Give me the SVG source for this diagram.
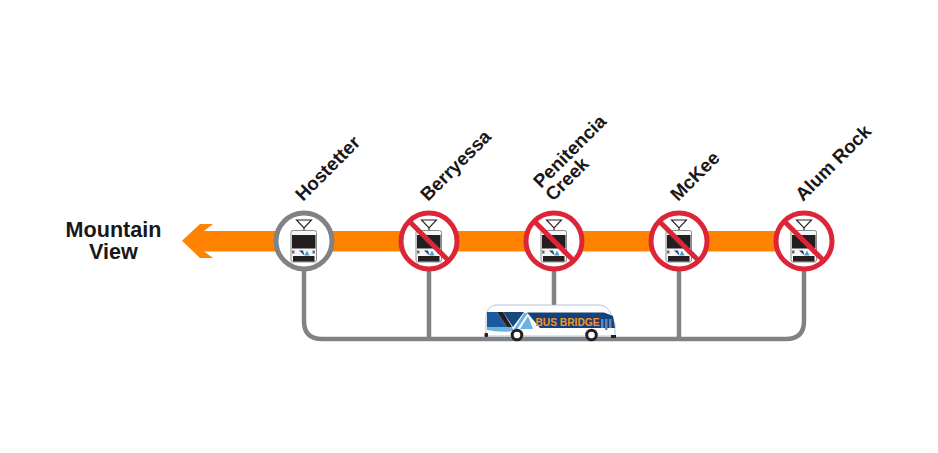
<svg xmlns="http://www.w3.org/2000/svg" width="938" height="453" viewBox="0 0 938 453">
<style>
.lbl{font-family:"Liberation Sans",Arial,sans-serif;font-weight:700;fill:#1a1718}
.st{font-size:18.8px}
.conn{fill:none;stroke:#808285;stroke-width:4.500}
.ring{fill:#fff;stroke:#808285;stroke-width:5}
.no{fill:none;stroke:#dc2536;stroke-width:5}
</style>
<defs>
<g id="train">
<path d="M-7.500-21H7.500L0-13ZM0-13V-9" fill="none" stroke="#231f20" stroke-width="1.100"/>
<circle cx="0" cy="-9.500" r="1.400" fill="#fff" stroke="#231f20" stroke-width="0.800"/>
<rect x="-13" y="-10.500" width="25.500" height="31.500" rx="2" fill="#f6f6f6" stroke="#8a8c8e" stroke-width="1"/>
<rect x="-12" y="-6" width="23.500" height="13.500" fill="#231f20"/>
<rect x="-11" y="15" width="21.500" height="5.500" fill="#231f20"/>
<rect x="-12" y="9.500" width="2.500" height="3" fill="#6d6e71"/>
<rect x="8.500" y="9.500" width="2.500" height="3" fill="#6d6e71"/>
<path d="M-5 9.500H-1L0.500 14.500Z" fill="#17497f"/>
<path d="M0.500 14.500 3 9.500 5.500 14.500Z" fill="#4a9ad4"/>
</g>
</defs>

<g id="connectors">
<path class="conn" d="M304 268V321Q304 339 322 339H786Q804 339 804 321V268"/>
<path class="conn" d="M429 268V339M554 268V306M679 268V339"/>
</g>

<g id="line">
<path d="M182 240.700 200 224H213L204 231H780V251.500H204L213 258H200Z" fill="#ff8300"/>
</g>

<g id="mountain-view">
<text class="lbl" font-size="21.600" text-anchor="middle" x="113.500" y="237">Mountain</text>
<text class="lbl" font-size="21.600" text-anchor="middle" x="113.500" y="258.500">View</text>
</g>

<g id="hostetter">
<circle class="ring" cx="304" cy="241" r="28"/>
<use href="#train" x="304" y="241"/>
<text class="lbl st" transform="translate(303 202) rotate(-45)">Hostetter</text>
</g>

<g id="berryessa">
<circle cx="429" cy="241" r="28" fill="#fff"/>
<use href="#train" x="429" y="241"/>
<g transform="translate(429 241)"><circle class="no" r="28"/><path class="no" d="M-20-20 20 20"/></g>
<text class="lbl st" transform="translate(428 202) rotate(-45)">Berryessa</text>
</g>

<g id="penitencia-creek">
<circle cx="554" cy="241" r="28" fill="#fff"/>
<use href="#train" x="554" y="241"/>
<g transform="translate(554 241)"><circle class="no" r="28"/><path class="no" d="M-20-20 20 20"/></g>
<text class="lbl st" transform="translate(541 189) rotate(-45)">Penitencia</text>
<text class="lbl st" transform="translate(553 202) rotate(-45)">Creek</text>
</g>

<g id="mckee">
<circle cx="679" cy="241" r="28" fill="#fff"/>
<use href="#train" x="679" y="241"/>
<g transform="translate(679 241)"><circle class="no" r="28"/><path class="no" d="M-20-20 20 20"/></g>
<text class="lbl st" transform="translate(678 202) rotate(-45)">McKee</text>
</g>

<g id="alum-rock">
<circle cx="804" cy="241" r="28" fill="#fff"/>
<use href="#train" x="804" y="241"/>
<g transform="translate(804 241)"><circle class="no" r="28"/><path class="no" d="M-20-20 20 20"/></g>
<text class="lbl st" transform="translate(803 202) rotate(-45)">Alum Rock</text>
</g>

<g id="bus">
<path d="M486 332V316Q487 307 495 305H600Q607 306 610 312L615 324V336H486Z" fill="#fff" stroke="#9fb6d0" stroke-width="0.800"/>
<path d="M487 312H497L507 327H487Z" fill="#1c5aa0"/>
<path d="M497 312H503L512 327H507Z" fill="#231f20"/>
<path d="M503 312H524L513 327Z" fill="#17497f"/>
<path d="M487 327H512L514 331Q500 333 487 330Z" fill="#6db3e2"/>
<path d="M514 329 524 313H528L516 331Z" fill="#6db3e2"/>
<path d="M520 329 528 316 533 329Z" fill="#6db3e2"/>
<path d="M527 312.500H604L613 316 615 328H540Z" fill="#17417a"/>
<path d="M601 319h2.500v9H601M605 319h2.500v11H605M609 319h2.500v9H609" fill="#5a86b8"/>
<text x="535.500" y="326" font-family="Liberation Sans,Arial,sans-serif" font-size="10.200" font-weight="700" fill="#f7941d">BUS BRIDGE</text>
<rect x="484.500" y="333" width="3.500" height="4" rx="1" fill="#231f20"/>
<rect x="611" y="335" width="5" height="3" fill="#231f20"/>
<circle cx="517" cy="335" r="4.800" fill="#fff" stroke="#231f20" stroke-width="3"/>
<circle cx="591.500" cy="335" r="4.800" fill="#fff" stroke="#231f20" stroke-width="3"/>
</g>
</svg>
